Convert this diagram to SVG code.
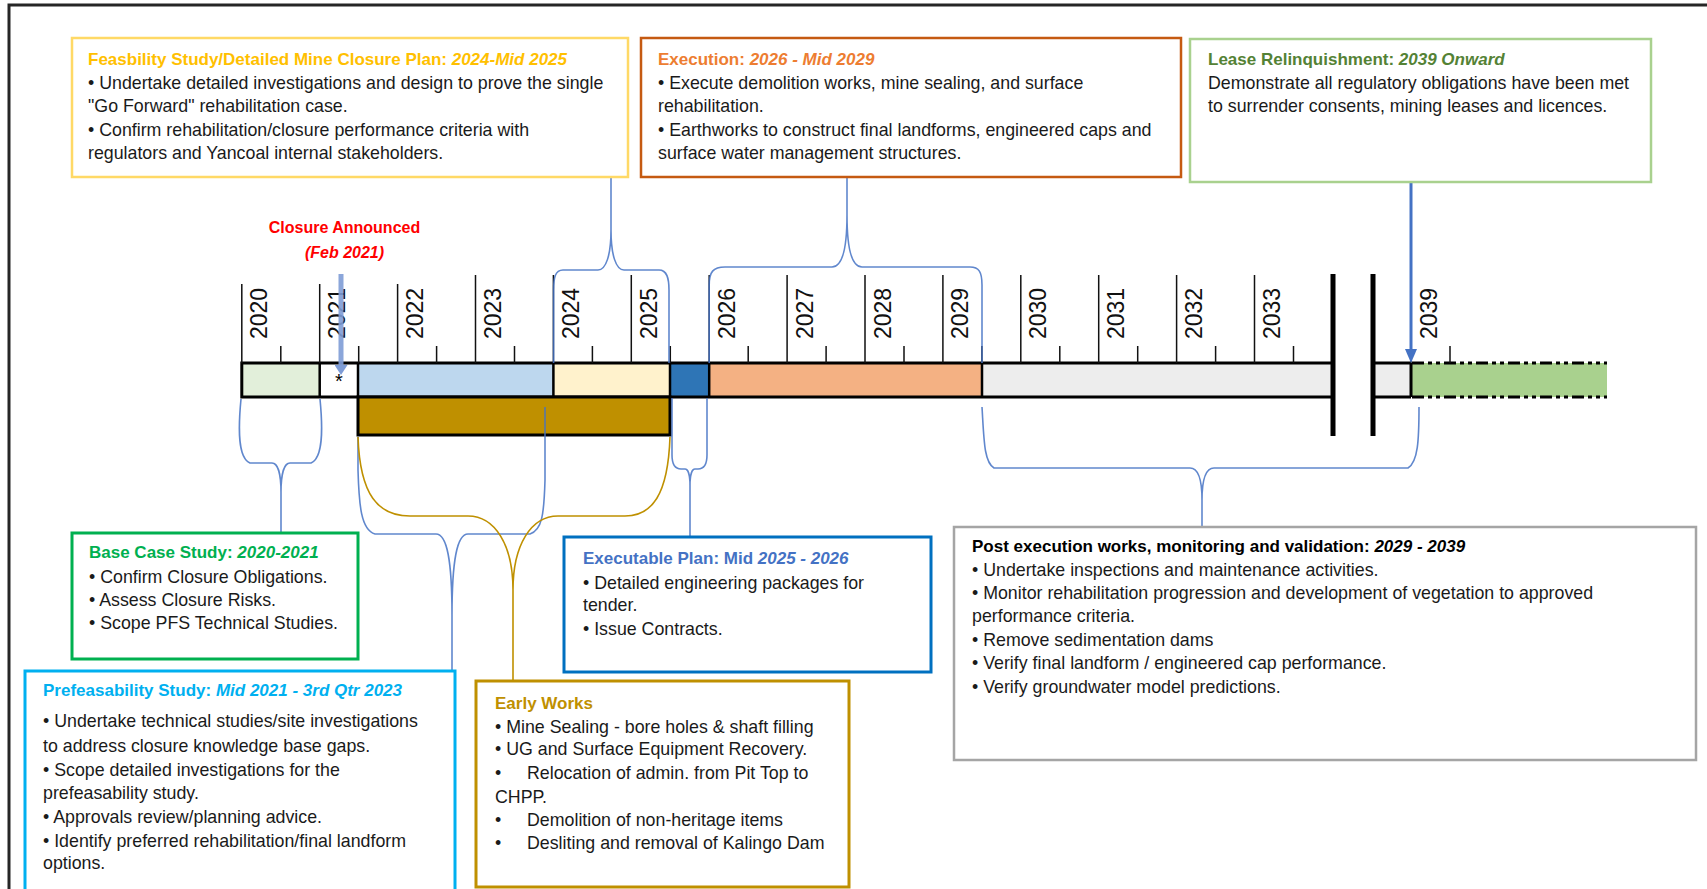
<svg xmlns="http://www.w3.org/2000/svg" width="1707" height="889" viewBox="0 0 1707 889">
<style>
text{font-family:"Liberation Sans",Arial,sans-serif}
.t{font-size:17px;font-weight:bold}
.it{font-style:italic}
.b{font-size:17.8px;fill:#1a1a1a}
.yr{font-size:23px;fill:#111}
.tick{stroke:#111;stroke-width:1.5}
.box{fill:#fff}
.brace{fill:none;stroke:#4472C4;stroke-width:1.6;stroke-opacity:.85}
.gbrace{fill:none;stroke:#BF9000;stroke-width:1.6}
.cell{stroke:none}
.div{stroke:#000;stroke-width:2.5}
</style>
<defs>
<marker id="ahLease" viewBox="0 0 14 12" refX="3" refY="6" markerWidth="14" markerHeight="12" markerUnits="userSpaceOnUse" orient="auto"><path d="M0,0 L14,6 L0,12 z" fill="#4472C4"/></marker>
<marker id="ahClosure" viewBox="0 0 10 13" refX="2" refY="6.5" markerWidth="10" markerHeight="13" markerUnits="userSpaceOnUse" orient="auto"><path d="M0,0 L10,6.5 L0,13 z" fill="#7E9CD6"/></marker>
</defs>
<rect x="0" y="0" width="1707" height="889" fill="#fff"/>
<path d="M9,889 L9,5 L1707,5" fill="none" stroke="#262626" stroke-width="3"/>

<g id="timeline">
<rect class="cell" x="241.8" y="363" width="77.9" height="34" fill="#E2EFDA"/>
<rect class="cell" x="319.7" y="363" width="38.3" height="34" fill="#FFFFFF"/>
<rect class="cell" x="358" y="363" width="195.4" height="34" fill="#BDD7EE"/>
<rect class="cell" x="553.4" y="363" width="116.6" height="34" fill="#FFF2CC"/>
<rect class="cell" x="670" y="363" width="39.2" height="34" fill="#2E75B6"/>
<rect class="cell" x="709.2" y="363" width="272.8" height="34" fill="#F4B183"/>
<rect class="cell" x="982" y="363" width="351" height="34" fill="#EDEDED"/>
<rect class="cell" x="1373" y="363" width="38" height="34" fill="#EDEDED"/>
<rect class="cell" x="1411" y="363" width="196" height="34" fill="#A9D18E"/>
<path d="M241.8,363 L1333,363 M241.8,397 L1333,397 M241.8,361.5 L241.8,398.5 M1373,363 L1411,363 M1373,397 L1411,397 M1411,363 L1411,397" stroke="#000" stroke-width="3" fill="none"/>
<path class="div" d="M319.7,363 V397 M358,363 V397 M553.4,363 V397 M670,363 V397 M709.2,363 V397 M982,363 V397"/>
<path d="M1412,363 H1607 M1412,397 H1607" stroke="#000" stroke-width="3" stroke-dasharray="12 4 4 4 4 4" fill="none"/>
<rect x="358" y="397" width="312" height="38" fill="#BF9000" stroke="#000" stroke-width="3"/>
<path d="M1333,274 V436 M1373,274 V436" stroke="#000" stroke-width="5"/>
<path class="tick" d="M241.8,284 V363 M319.7,284 V363 M397.6,284 V363 M475.5,275 V363 M553.4,275 V363 M631.3,275 V363 M709.2,275 V363 M787.1,275 V363 M865,275 V363 M942.9,275 V363 M1020.8,275 V363 M1098.7,275 V363 M1176.6,275 V363 M1254.5,275 V363 M1411,275 V363"/>
<path class="tick" d="M280.8,346 V363 M358.7,346 V363 M436.6,346 V363 M514.5,346 V363 M592.4,346 V363 M670.3,346 V363 M748.2,346 V363 M826.1,346 V363 M904,346 V363 M981.9,346 V363 M1059.8,346 V363 M1137.7,346 V363 M1215.6,346 V363 M1293.5,346 V363 M1450,346 V363"/>
<text class="yr" transform="translate(267.3,339) rotate(-90)">2020</text>
<text class="yr" transform="translate(345.2,339) rotate(-90)">2021</text>
<text class="yr" transform="translate(423.1,339) rotate(-90)">2022</text>
<text class="yr" transform="translate(501,339) rotate(-90)">2023</text>
<text class="yr" transform="translate(578.9,339) rotate(-90)">2024</text>
<text class="yr" transform="translate(656.8,339) rotate(-90)">2025</text>
<text class="yr" transform="translate(734.7,339) rotate(-90)">2026</text>
<text class="yr" transform="translate(812.6,339) rotate(-90)">2027</text>
<text class="yr" transform="translate(890.5,339) rotate(-90)">2028</text>
<text class="yr" transform="translate(968.4,339) rotate(-90)">2029</text>
<text class="yr" transform="translate(1046.3,339) rotate(-90)">2030</text>
<text class="yr" transform="translate(1124.2,339) rotate(-90)">2031</text>
<text class="yr" transform="translate(1202.1,339) rotate(-90)">2032</text>
<text class="yr" transform="translate(1280,339) rotate(-90)">2033</text>
<text class="yr" transform="translate(1436.5,339) rotate(-90)">2039</text>
<text x="339" y="388" font-size="20" text-anchor="middle" fill="#000">*</text>
</g>

<g id="closure-announced">
<text x="344.5" y="233" font-size="16" font-weight="bold" fill="#FF0000" text-anchor="middle">Closure Announced</text>
<text x="344.5" y="258" font-size="16" font-weight="bold" font-style="italic" fill="#FF0000" text-anchor="middle">(Feb 2021)</text>
</g>

<g id="connectors">
<path class="brace" d="M553.6,363 L553.6,290 C553.6,278 555,270 563,270 L598,270 C606,270 611,255 611,230 L611,177 M669,363 L669,290 C669,278 667,270 659,270 L624,270 C616,270 611,255 611,230"/>
<path class="brace" d="M709.2,363 L709.2,285 C709.2,272 713,267 725,267 L832,267 C842,267 847,250 847,215 L847,177 M982,363 L982,285 C982,272 979,267 970,267 L862,267 C852,267 847,250 847,215"/>
<path class="brace" d="M241,399 C238,430 238,458 250,463 L272,463 C278,463 281,475 281,492 L281,533 M320,399 C323,430 323,458 311,463 L290,463 C284,463 281,475 281,492"/>
<path class="brace" d="M358,437 L358,470 C359,505 361,530 375,534 L436,534 C447,534 452,560 452,615 L452,671 M545,407 L545,480 C544,515 542,530 530,534 L468,534 C457,534 452,560 452,615"/>
<path class="gbrace" d="M358,437 C360,495 378,516 410,516 L468,516 C495,516 513,545 513,590 L513,681 M670,437 C668,495 652,516 625,516 L558,516 C531,516 513,545 513,590"/>
<path class="brace" d="M672,398 L672,455 C672,465 675,469 681,469 L685,469 C688,469 690,475 690,485 L690,537 M707,398 L707,455 C707,465 704,469 698,469 L695,469 C692,469 690,475 690,485"/>
<path class="brace" d="M982,407 C984,440 984,462 994,468 L1190,468 C1198,468 1202,480 1202,500 L1202,527 M1419,407 C1419,440 1418,462 1408,468 L1214,468 C1206,468 1202,480 1202,500"/>
<line x1="1411" y1="182" x2="1411" y2="352" stroke="#4472C4" stroke-width="3" marker-end="url(#ahLease)"/>
<line x1="341" y1="274" x2="341" y2="367" stroke="#7E9CD6" stroke-width="5" stroke-opacity=".9" marker-end="url(#ahClosure)"/>
</g>

<g id="feasibility">
<rect class="box" x="72" y="38" width="556" height="139" stroke="#FFD966" stroke-width="2.5"/>
<text class="t" x="88" y="65" fill="#FFC000">Feasbility Study/Detailed Mine Closure Plan: <tspan class="it">2024-Mid 2025</tspan></text>
<text class="b" x="88" y="89">• Undertake detailed investigations and design to prove the single</text>
<text class="b" x="88" y="112">"Go Forward" rehabilitation case.</text>
<text class="b" x="88" y="136">• Confirm rehabilitation/closure performance criteria with</text>
<text class="b" x="88" y="159">regulators and Yancoal internal stakeholders.</text>
</g>

<g id="execution">
<rect class="box" x="641" y="38" width="540" height="139" stroke="#C55A11" stroke-width="2.5"/>
<text class="t" x="658" y="65" fill="#ED7D31">Execution: <tspan class="it">2026 - Mid 2029</tspan></text>
<text class="b" x="658" y="89">• Execute demolition works, mine sealing, and surface</text>
<text class="b" x="658" y="112">rehabilitation.</text>
<text class="b" x="658" y="136">• Earthworks to construct final landforms, engineered caps and</text>
<text class="b" x="658" y="159">surface water management structures.</text>
</g>

<g id="lease">
<rect class="box" x="1190" y="39" width="461" height="143" stroke="#A9D18E" stroke-width="2.5"/>
<text class="t" x="1208" y="65" fill="#548235">Lease Relinquishment: <tspan class="it">2039 Onward</tspan></text>
<text class="b" x="1208" y="89">Demonstrate all regulatory obligations have been met</text>
<text class="b" x="1208" y="112">to surrender consents, mining leases and licences.</text>
</g>

<g id="base-case">
<rect class="box" x="72" y="533" width="286" height="126" stroke="#00B050" stroke-width="3"/>
<text class="t" x="89" y="558" fill="#00B050">Base Case Study: <tspan class="it">2020-2021</tspan></text>
<text class="b" x="89" y="583">• Confirm Closure Obligations.</text>
<text class="b" x="89" y="606">• Assess Closure Risks.</text>
<text class="b" x="89" y="629">• Scope PFS Technical Studies.</text>
</g>

<g id="prefeasibility">
<rect class="box" x="25" y="671" width="430" height="230" stroke="#00B0F0" stroke-width="3"/>
<text class="t" x="43" y="696" fill="#00B0F0">Prefeasability Study: <tspan class="it">Mid 2021 - 3rd Qtr 2023</tspan></text>
<text class="b" x="43" y="727">• Undertake technical studies/site investigations</text>
<text class="b" x="43" y="752">to address closure knowledge base gaps.</text>
<text class="b" x="43" y="776">• Scope detailed investigations for the</text>
<text class="b" x="43" y="799">prefeasability study.</text>
<text class="b" x="43" y="823">• Approvals review/planning advice.</text>
<text class="b" x="43" y="847">• Identify preferred rehabilitation/final landform</text>
<text class="b" x="43" y="869">options.</text>
</g>

<g id="executable-plan">
<rect class="box" x="564" y="537" width="367" height="135" stroke="#0070C0" stroke-width="3"/>
<text class="t" x="583" y="564" fill="#4472C4">Executable Plan: Mid <tspan class="it">2025 - 2026</tspan></text>
<text class="b" x="583" y="589">• Detailed engineering packages for</text>
<text class="b" x="583" y="611">tender.</text>
<text class="b" x="583" y="635">• Issue Contracts.</text>
</g>

<g id="early-works">
<rect class="box" x="476" y="681" width="373" height="206" stroke="#BF9000" stroke-width="3"/>
<text class="t" x="495" y="709" fill="#BF9000">Early Works</text>
<text class="b" x="495" y="733">• Mine Sealing - bore holes &amp; shaft filling</text>
<text class="b" x="495" y="755">• UG and Surface Equipment Recovery.</text>
<text class="b" y="779"><tspan x="495">•</tspan><tspan x="527">Relocation of admin. from Pit Top to</tspan></text>
<text class="b" x="495" y="803">CHPP.</text>
<text class="b" y="826"><tspan x="495">•</tspan><tspan x="527">Demolition of non-heritage items</tspan></text>
<text class="b" y="849"><tspan x="495">•</tspan><tspan x="527">Desliting and removal of Kalingo Dam</tspan></text>
</g>

<g id="post-execution">
<rect class="box" x="954" y="527" width="742" height="233" stroke="#A5A5A5" stroke-width="2.5"/>
<text class="t" x="972" y="552" fill="#000">Post execution works, monitoring and validation: <tspan class="it">2029 - 2039</tspan></text>
<text class="b" x="972" y="576">• Undertake inspections and maintenance activities.</text>
<text class="b" x="972" y="599">• Monitor rehabilitation progression and development of vegetation to approved</text>
<text class="b" x="972" y="622">performance criteria.</text>
<text class="b" x="972" y="646">• Remove sedimentation dams</text>
<text class="b" x="972" y="669">• Verify final landform / engineered cap performance.</text>
<text class="b" x="972" y="693">• Verify groundwater model predictions.</text>
</g>
</svg>
